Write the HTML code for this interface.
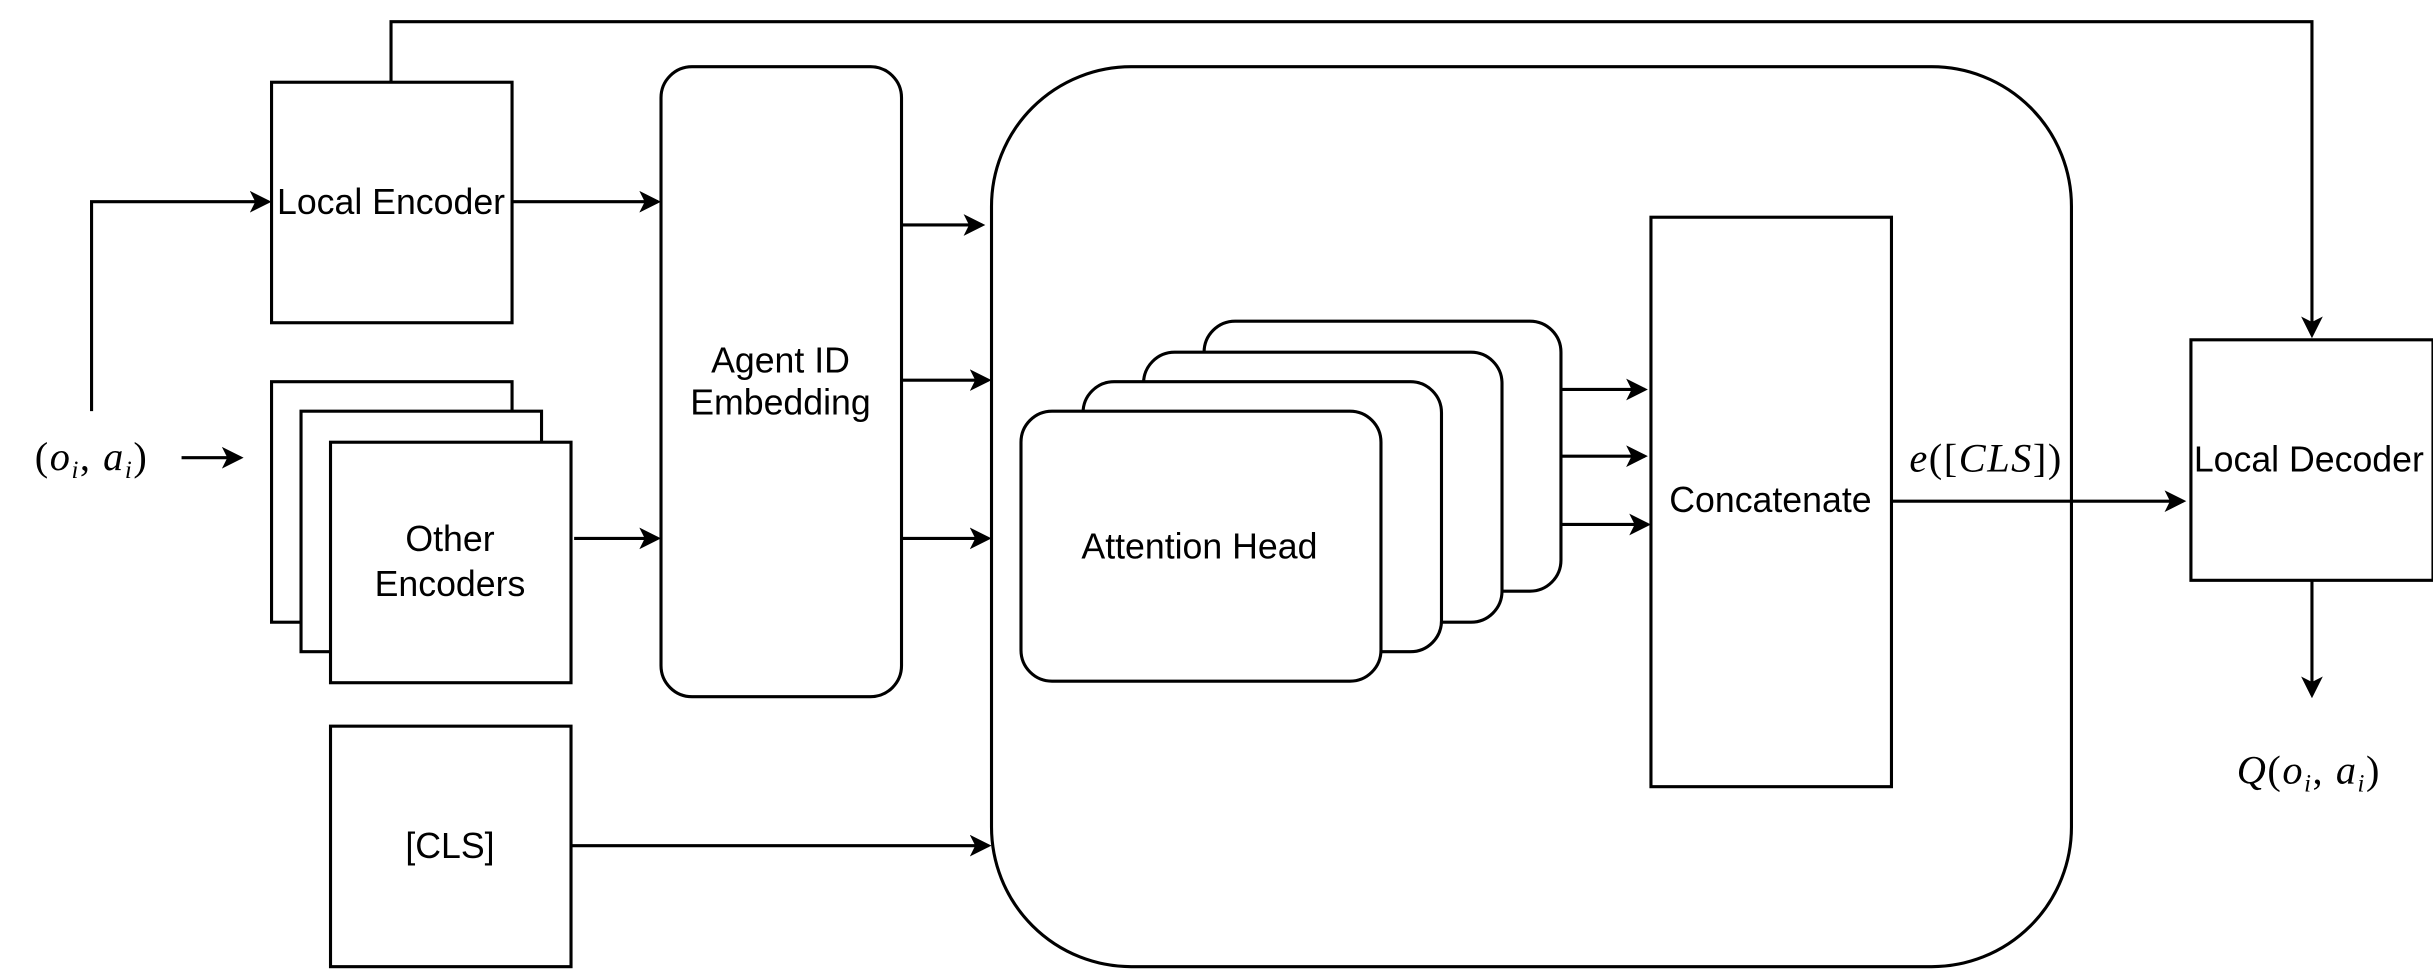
<!DOCTYPE html>
<html><head><meta charset="utf-8"><style>
html,body{margin:0;padding:0;background:#fff;}
svg{display:block;}
text{font-family:"Liberation Sans",sans-serif;font-size:23px;fill:#000;}
.m{font-family:"Liberation Serif",serif;font-size:26px;}
</style></head><body>
<svg width="2433" height="969" viewBox="0 0 1568 624.5" xmlns="http://www.w3.org/2000/svg">
<defs><marker id="a" markerWidth="14" markerHeight="14" refX="12" refY="7" orient="auto" markerUnits="userSpaceOnUse"><path d="M0,0 L14,7 L0,14 L3.5,7 Z" fill="#000"/></marker></defs>
<g fill="none" stroke="#000" stroke-width="2">
<path d="M252,53 V14 H1490 V216" marker-end="url(#a)"/>
<rect x="175" y="53" width="155" height="155" fill="#fff"/>
<path d="M59,265 V130 H173" marker-end="url(#a)"/>
<path d="M117,295 H155" marker-end="url(#a)"/>
<rect x="175" y="246" width="155" height="155" fill="#fff"/>
<rect x="194" y="265" width="155" height="155" fill="#fff"/>
<rect x="213" y="285" width="155" height="155" fill="#fff"/>
<rect x="213" y="468" width="155" height="155" fill="#fff"/>
<path d="M330,130 H424" marker-end="url(#a)"/>
<path d="M370,347 H424" marker-end="url(#a)"/>
<path d="M368,545 H637" marker-end="url(#a)"/>
<rect x="426" y="43" width="155" height="406" rx="20"/>
<path d="M581,145 H633" marker-end="url(#a)"/>
<path d="M581,245 H637" marker-end="url(#a)"/>
<path d="M581,347 H637" marker-end="url(#a)"/>
<rect x="639" y="43" width="696" height="580" rx="90"/>
<rect x="776" y="207" width="230" height="174" rx="20" fill="#fff"/>
<rect x="737" y="227" width="231" height="174" rx="20" fill="#fff"/>
<rect x="698" y="246" width="231" height="174" rx="20" fill="#fff"/>
<rect x="658" y="265" width="232" height="174" rx="20" fill="#fff"/>
<path d="M1006,251 H1060" marker-end="url(#a)"/>
<path d="M1006,294 H1060" marker-end="url(#a)"/>
<path d="M1006,338 H1062" marker-end="url(#a)"/>
<rect x="1064" y="140" width="155" height="367"/>
<path d="M1219,323 H1407" marker-end="url(#a)"/>
<rect x="1412" y="219" width="156" height="155"/>
<path d="M1490,374 V448" marker-end="url(#a)"/>
</g>
<g text-anchor="middle">
<text x="252" y="138">Local Encoder</text>
<text x="290" y="355">Other</text>
<text x="290" y="384">Encoders</text>
<text x="290" y="553">[CLS]</text>
<text x="503" y="240">Agent ID</text>
<text x="503" y="267">Embedding</text>
<text x="773" y="360">Attention Head</text>
<text x="1141" y="330">Concatenate</text>
<text x="1488" y="304">Local Decoder</text>
<text class="m" x="59" y="303" letter-spacing="1"><tspan>(</tspan><tspan font-style="italic">o</tspan><tspan font-style="italic" font-size="16" dy="5">i</tspan><tspan dy="-5">,  </tspan><tspan font-style="italic">a</tspan><tspan font-style="italic" font-size="16" dy="5">i</tspan><tspan dy="-5">)</tspan></text>
<text class="m" x="1280" y="304" letter-spacing="1"><tspan font-style="italic">e</tspan>([<tspan font-style="italic">CLS</tspan>])</text>
<text class="m" x="1488" y="505" letter-spacing="1"><tspan font-style="italic">Q</tspan>(<tspan font-style="italic">o</tspan><tspan font-style="italic" font-size="16" dy="5">i</tspan><tspan dy="-5">,  </tspan><tspan font-style="italic">a</tspan><tspan font-style="italic" font-size="16" dy="5">i</tspan><tspan dy="-5">)</tspan></text>
</g>
</svg>
</body></html>
